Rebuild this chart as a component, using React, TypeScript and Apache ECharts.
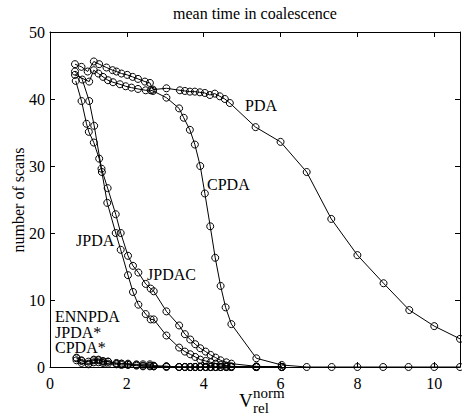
import React, { useEffect, useRef } from "react";
import * as echarts from "echarts";

// Mean time in coalescence (number of scans) against normalised relative speed
const pdaX = [0.65, 0.82, 0.98, 1.14, 1.28, 1.47, 1.63, 1.73, 1.86, 2.01, 2.15, 2.29, 2.47, 2.6, 2.68, 3.03, 3.38, 3.51, 3.64, 3.77, 3.9, 4.03, 4.16, 4.29, 4.42, 4.55, 4.68, 5.35, 6.0, 6.68, 7.32, 8.0, 8.68, 9.35, 10.0, 10.67];
const pdaY = [45.2, 44.8, 44.1, 45.6, 45.2, 44.7, 44.3, 44.1, 43.8, 43.6, 43.3, 43.0, 42.6, 42.4, 41.4, 41.6, 41.3, 41.2, 41.1, 41.1, 41.0, 40.9, 40.6, 40.8, 40.4, 40.0, 39.4, 35.8, 33.6, 29.1, 22.1, 16.7, 12.5, 8.5, 6.1, 4.2];

const cpdaX = [0.65, 1.02, 1.14, 1.26, 1.38, 1.51, 1.64, 1.82, 1.97, 2.12, 2.29, 2.49, 2.62, 2.68, 3.03, 3.36, 3.48, 3.64, 3.77, 3.91, 4.03, 4.17, 4.3, 4.44, 4.57, 4.72, 5.37, 6.03, 6.68, 7.33, 8.0, 8.67, 9.33, 10.0, 10.67];
const cpdaY = [43.6, 42.6, 44.3, 43.8, 43.3, 42.8, 42.5, 42.2, 41.9, 41.7, 41.5, 41.3, 41.3, 41.2, 40.2, 38.6, 37.2, 35.4, 33.2, 30.0, 25.9, 21.0, 16.3, 12.1, 8.9, 6.4, 1.3, 0.3, 0, 0, 0, 0, 0, 0, 0];

const jpdaX = [0.67, 0.82, 0.95, 1.01, 1.14, 1.28, 1.35, 1.49, 1.71, 1.84, 2.03, 2.16, 2.3, 2.49, 2.62, 2.7, 3.03, 3.36, 3.51, 3.65, 3.78, 3.91, 4.05, 4.18, 4.31, 4.44, 4.59, 4.72, 5.37, 6.03];
const jpdaY = [42.7, 39.7, 36.3, 35.1, 33.5, 31.1, 29.1, 24.5, 20.0, 17.5, 13.7, 11.2, 9.3, 7.9, 7.1, 7.1, 4.7, 2.9, 2.3, 1.9, 1.5, 1.1, 0.9, 0.7, 0.5, 0.3, 0.2, 0.1, 0, 0];

const jpdacX = [0.65, 0.84, 1.02, 1.15, 1.34, 1.5, 1.71, 1.84, 2.03, 2.16, 2.3, 2.49, 2.62, 2.7, 3.03, 3.36, 3.51, 3.65, 3.78, 3.91, 4.05, 4.18, 4.31, 4.44, 4.59, 4.72, 5.37, 6.03];
const jpdacY = [44.1, 42.9, 39.7, 36.0, 29.6, 26.7, 22.8, 20.0, 16.6, 15.1, 14.1, 12.4, 11.7, 11.3, 8.3, 6.2, 4.9, 4.1, 3.4, 2.8, 2.3, 1.8, 1.4, 1.0, 0.7, 0.5, 0.1, 0];

const lowX = [0.69, 0.82, 1.0, 1.14, 1.26, 1.38, 1.51, 1.73, 1.86, 2.03, 2.25, 2.42, 2.6, 2.7, 3.03, 3.36, 3.51, 3.65, 3.78, 3.91, 4.05, 4.18, 4.31, 4.44, 4.59, 4.72, 5.37, 6.03];
const ennpdaY = [1.4, 1.0, 0.5, 1.0, 1.0, 0.8, 0.8, 0.5, 0.5, 0.4, 0.3, 0.2, 0.2, 0.1, 0.1, 0, 0, 0, 0, 0, 0, 0, 0, 0, 0, 0, 0, 0];
const jpdaStarY = [1.3, 0.9, 0.8, 1.1, 1.1, 0.9, 0.8, 0.6, 0.5, 0.5, 0.4, 0.4, 0.4, 0.2, 0.1, 0, 0, 0, 0, 0, 0, 0, 0, 0, 0, 0, 0, 0];
const cpdaStarY = [1.0, 0.6, 0.4, 0.7, 0.7, 0.6, 0.5, 0.4, 0.3, 0.3, 0.2, 0.1, 0.1, 0.1, 0, 0, 0, 0, 0, 0, 0, 0, 0, 0, 0, 0, 0, 0];

const xTicks = [0, 2, 4, 6, 8, 10];
const yTicks = [0, 10, 20, 30, 40, 50];

const SERIF = '"Liberation Serif", "DejaVu Serif", serif';

const pairs = (xs: number[], ys: number[]) => xs.map((x, i) => [x, ys[i]]);

export default function App() {
  const ref = useRef<HTMLDivElement>(null);

  useEffect(() => {
    const chart = echarts.init(ref.current!, null, { renderer: "svg" });

    const line = (name: string, xs: number[], ys: number[]) => ({
      name,
      type: "line",
      data: pairs(xs, ys),
      symbol: "circle",
      symbolSize: 7,
      showAllSymbol: true,
      lineStyle: { color: "#000", width: 1 },
      itemStyle: { color: "rgba(0,0,0,0)", borderColor: "#000", borderWidth: 1 },
      emphasis: { disabled: true },
      silent: true,
      xAxisIndex: 0,
      yAxisIndex: 0,
    });

    const tickStyle = { show: true, inside: true, length: 5, lineStyle: { color: "#000", width: 1 } };
    const axisLine = { show: true, onZero: false, lineStyle: { color: "#000", width: 1 } };
    const labelStyle = { fontFamily: SERIF, fontSize: 16, color: "#000" };

    const xMax = 10.67;
    const textStyle = (text: string, size: number) => ({
      text,
      fontFamily: SERIF,
      fontSize: size,
      fill: "#000",
    });

    chart.setOption({
      animation: false,
      backgroundColor: "#fff",
      grid: { left: 50, top: 32, width: 410, height: 335, containLabel: false },
      xAxis: [
        {
          type: "value",
          min: 0,
          max: xMax,
          interval: 2,
          position: "bottom",
          axisLine,
          axisTick: tickStyle,
          axisLabel: {
            ...labelStyle,
            margin: 8,
            showMaxLabel: false,
            formatter: (v: number) => (xTicks.includes(v) ? String(v) : ""),
          },
          splitLine: { show: false },
        },
        {
          type: "value",
          min: 0,
          max: xMax,
          interval: 2,
          position: "top",
          axisLine,
          axisTick: tickStyle,
          axisLabel: { show: false },
          splitLine: { show: false },
        },
      ],
      yAxis: [
        {
          type: "value",
          min: 0,
          max: 50,
          interval: 10,
          position: "left",
          axisLine,
          axisTick: tickStyle,
          axisLabel: {
            ...labelStyle,
            margin: 5,
            formatter: (v: number) => (yTicks.includes(v) ? String(v) : ""),
          },
          splitLine: { show: false },
        },
        {
          type: "value",
          min: 0,
          max: 50,
          interval: 10,
          position: "right",
          axisLine,
          axisTick: tickStyle,
          axisLabel: { show: false },
          splitLine: { show: false },
        },
      ],
      series: [
        line("PDA", pdaX, pdaY),
        line("CPDA", cpdaX, cpdaY),
        line("JPDA", jpdaX, jpdaY),
        line("JPDAC", jpdacX, jpdacY),
        line("ENNPDA", lowX, ennpdaY),
        line("JPDA*", lowX, jpdaStarY),
        line("CPDA*", lowX, cpdaStarY),
      ],
      graphic: [
        { type: "text", x: 255, y: 13, style: { ...textStyle("mean time in coalescence", 16), align: "center", verticalAlign: "middle" } },
        { type: "text", x: 18, y: 200, rotation: Math.PI / 2, style: { ...textStyle("number of scans", 16), align: "center", verticalAlign: "middle" } },
        { type: "text", x: 239, y: 400, style: { ...textStyle("V", 19), align: "left", verticalAlign: "middle" } },
        { type: "text", x: 253, y: 393, style: { ...textStyle("norm", 15), align: "left", verticalAlign: "middle" } },
        { type: "text", x: 253, y: 408, style: { ...textStyle("rel", 15), align: "left", verticalAlign: "middle" } },
        { type: "text", x: 245, y: 105, style: { ...textStyle("PDA", 16), align: "left", verticalAlign: "middle" } },
        { type: "text", x: 207, y: 184, style: { ...textStyle("CPDA", 16), align: "left", verticalAlign: "middle" } },
        { type: "text", x: 76, y: 240, style: { ...textStyle("JPDA", 16), align: "left", verticalAlign: "middle" } },
        { type: "text", x: 147, y: 274, style: { ...textStyle("JPDAC", 16), align: "left", verticalAlign: "middle" } },
        { type: "text", x: 55, y: 316, style: { ...textStyle("ENNPDA", 16), align: "left", verticalAlign: "middle" } },
        { type: "text", x: 55, y: 332, style: { ...textStyle("JPDA*", 16), align: "left", verticalAlign: "middle" } },
        { type: "text", x: 55, y: 347, style: { ...textStyle("CPDA*", 16), align: "left", verticalAlign: "middle" } },
      ],
    });

    return () => chart.dispose();
  }, []);

  return (
    <div
      ref={ref}
      style={{ position: "fixed", left: 0, top: 0, width: 462, height: 420 }}
    />
  );
}
